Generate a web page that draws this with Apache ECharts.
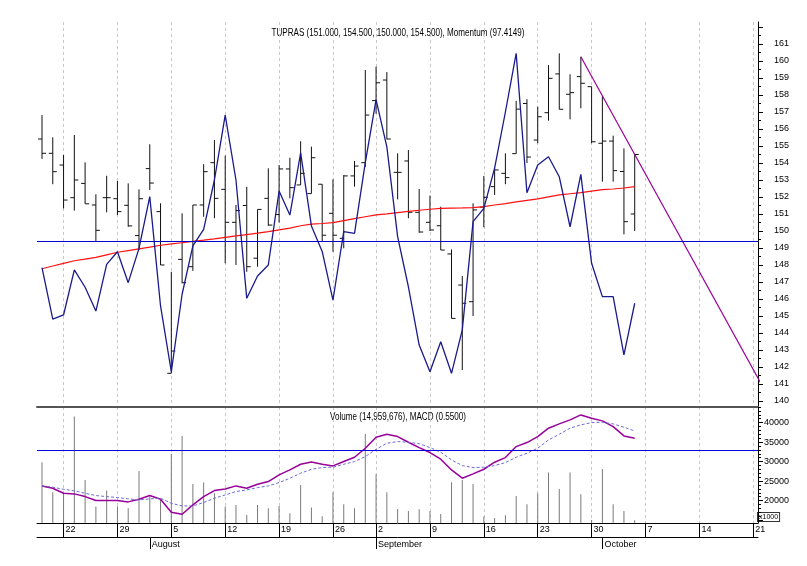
<!DOCTYPE html>
<html>
<head>
<meta charset="utf-8">
<script src="https://cdn.jsdelivr.net/npm/echarts@6/dist/echarts.min.js"></script>
<style>
  html, body { margin: 0; padding: 0; background: #fff; }
  #main { width: 807px; height: 566px; }
</style>
</head>
<body>
<div id="main"></div>
<script>
// trading days (2013), the tail after 10-04 is empty room for the trend line
var dates = [
  '07-18','07-19','07-22','07-23','07-24','07-25','07-26','07-29','07-30','07-31',
  '08-01','08-02','08-05','08-06','08-07','08-08','08-09','08-12','08-13','08-14','08-15','08-16',
  '08-19','08-20','08-21','08-22','08-23','08-26','08-27','08-28','08-29',
  '09-02','09-03','09-04','09-05','09-06','09-09','09-10','09-11','09-12','09-13',
  '09-16','09-17','09-18','09-19','09-20','09-23','09-24','09-25','09-26','09-27','09-30',
  '10-01','10-02','10-03','10-04','10-07','10-08','10-09','10-10','10-11',
  '10-14','10-15','10-16','10-17','10-18','10-21','10-22','10-23','10-24','10-25'
];
var monthNames = ['January','February','March','April','May','June','July',
  'August','September','October','November','December'];

var opens = [155.41,154.57,153.88,151.96,152.8,151.53,151.96,151.9,151.51,149.73,
  153.67,151.14,141.63,148.33,147.9,151.53,154.02,152.45,150.51,151.5,
  148.4,151.92,150.97,153.65,152.71,152.2,152.75,151.04,149.57,153.24,
  154.02,157.67,158.88,153.45,154.12,151.1,150.51,150.31,148.65,146.82,
  145.84,151.4,152.61,153.39,154.55,157.5,155.35,156.96,159.24,158.04,
  159.08,158.49,155.16,155.29,153.5,151.0];
var highs = [156.82,155.51,154.47,155.65,154.04,152.16,153.25,152.94,152.8,152.45,
  155.1,151.63,147.6,151.04,151.53,153.93,155.35,154.43,151.53,152.6,
  151.27,153.69,153.88,154.31,155.28,154.96,152.75,153.04,153.29,154.12,
  159.47,159.67,159.35,154.57,154.76,152.47,152.08,151.43,148.92,147.35,
  151.63,153.24,153.69,154.57,157.65,157.75,157.31,159.76,160.45,159.22,
  160.25,158.49,157.94,155.61,154.86,154.5];
var lows = [154.24,152.75,151.33,151.2,151.6,149.41,151.1,150.94,150.25,148.9,
  152.41,148.0,141.63,146.92,147.65,150.84,150.75,148.1,148.0,147.6,
  147.9,150.3,150.5,151.92,152.71,152.2,149.4,148.78,148.98,152.61,
  153.78,156.9,155.4,151.86,150.75,149.9,150.0,148.88,144.86,141.82,
  145.0,150.22,152.12,152.75,154.55,154.0,155.16,156.49,157.16,156.57,
  157.22,155.16,152.9,152.9,149.8,150.0];
var closes = [154.57,153.49,151.82,153.0,151.6,150.04,151.96,151.14,150.3,151.9,
  152.82,148.0,142.94,146.96,151.53,153.49,151.92,150.51,151.2,147.9,
  151.27,150.35,153.65,152.55,153.39,154.31,149.75,149.75,153.24,153.82,
  156.82,158.72,155.41,153.45,151.1,149.94,150.06,148.88,144.86,145.75,
  151.24,151.98,153.59,153.14,157.17,154.35,156.72,158.98,157.16,158.14,
  158.69,155.25,155.29,153.55,150.55,154.5];

// momentum as drawn over the price scale
var momentum = [147.84,144.81,145.06,147.71,146.69,145.29,148.04,148.78,146.96,148.98,
  152.02,145.59,141.72,146.28,149.12,150.1,153.0,156.82,153.0,146.04,
  147.35,148.0,152.35,150.94,154.6,150.3,148.8,145.94,149.96,149.86,
  154.02,157.73,154.95,149.67,146.72,143.29,141.72,143.49,141.63,144.18,
  150.55,151.33,153.7,157.0,160.45,152.25,153.88,154.37,153.19,150.25,
  153.33,148.1,146.14,146.14,142.71,145.75];
var movingAvg = [147.78,147.94,148.1,148.25,148.35,148.45,148.6,148.75,148.85,148.95,
  149.05,149.16,149.24,149.31,149.39,149.46,149.54,149.63,149.71,149.79,
  149.87,149.96,150.07,150.17,150.31,150.4,150.44,150.49,150.61,150.73,
  150.84,150.95,151.01,151.08,151.15,151.22,151.28,151.33,151.35,151.36,
  151.38,151.43,151.53,151.61,151.71,151.8,151.89,152.01,152.12,152.19,
  152.26,152.35,152.43,152.47,152.53,152.61];
var momentumLevel = 149.4;
var trendFrom = 50, trendThrough = 55; // trend line through these two highs

// volume in thousands
var volume = [29850,22150,21900,41540,25310,18460,22570,18460,18050,27620,
  21030,20180,31980,36590,24280,24620,21900,18460,18900,16340,
  18900,18050,18640,16770,24030,18210,16000,22160,19080,18050,
  37100,26770,22160,17870,17360,17800,17360,16590,24720,25310,
  24280,15900,15570,16260,21210,19080,21900,27180,23000,27180,
  21640,15050,28130,19080,17360,14960];
// MACD lines as drawn in the lower panel
var macd = [23770,23170,21890,21720,21030,20010,20010,20010,19670,20350,
  21290,20350,17020,16500,18900,21030,22570,23000,23770,23170,
  24200,24880,26590,27870,29320,29920,29320,28900,30010,31120,
  33430,36250,37020,36420,34970,33600,32320,30610,27870,25740,
  26850,28040,29840,31030,33850,34880,36420,38560,39670,40690,
  41970,41120,40440,38980,36590,35990];
var signal = [23770,23430,22910,22490,21890,21290,21030,20780,20440,20180,
  20440,20610,19320,18640,18640,19500,20610,21460,22320,22740,
  23340,23770,24620,25730,27020,28040,28470,28560,29320,30010,
  31290,33170,34710,35140,34970,34580,33600,32400,30440,28980,
  28470,28560,28980,29750,31120,32150,33430,35560,37020,38560,
  39410,40010,40090,39670,38810,37870];
var volumeLevel = 33000;

var priceTitle = 'TUPRAS (151.000, 154.500, 150.000, 154.500), Momentum (97.4149)';
var volumeTitle = 'Volume (14,959,676), MACD (0.5500)';

var priceTicks = [];
var priceHalfTicks = [];
for (var p = 140; p <= 162; p++) {
  priceTicks.push(p);
  if (p < 162) priceHalfTicks.push(p + 0.5);
}
var priceLabels = priceTicks.filter(function (v) { return v <= 161; });
var volTicks = [15000, 20000, 25000, 30000, 35000, 40000];
var volLabels = [20000, 25000, 30000, 35000, 40000];
var volMinor = [];
for (var v = 16000; v <= 44000; v += 1000) {
  if (v % 5000 !== 0) volMinor.push(v);
}

function toDate(s) {
  return new Date(2013, +s.slice(0, 2) - 1, +s.slice(3));
}
var weekStarts = [];
var monthStarts = [];
for (var i = 1; i < dates.length; i++) {
  var d0 = toDate(dates[i - 1]), d1 = toDate(dates[i]);
  if (d1.getDay() < d0.getDay()) weekStarts.push(i);
  if (d1.getMonth() !== d0.getMonth()) monthStarts.push(i);
}

var ohlc = opens.map(function (o, i) {
  return [i, o, highs[i], lows[i], closes[i]];
});
function pairs(arr) {
  return arr.map(function (val, i) { return [i, val]; });
}
var slope = (highs[trendThrough] - highs[trendFrom]) / (trendThrough - trendFrom);
var trendEnd = dates.length - 1;
var trend = [
  [trendFrom, highs[trendFrom]],
  [trendEnd, highs[trendFrom] + slope * (trendEnd - trendFrom)]
];

var FONT = "'Liberation Sans', Arial, sans-serif";
var xMin = -0.464, xMax = 66.44;
var plain = function (val) { return String(val); };

var myChart = echarts.init(document.getElementById('main'));
var option = {
  animation: false,
  backgroundColor: '#fff',
  textStyle: { fontFamily: FONT },
  // titles squeezed a little, the original uses a narrow face
  graphic: [
    {
      type: 'text', x: 398, y: 33, scaleX: 0.81, silent: true,
      style: { text: priceTitle, font: '10px ' + FONT, fill: '#000', align: 'center', verticalAlign: 'middle' }
    },
    {
      type: 'text', x: 398, y: 417, scaleX: 0.81, silent: true,
      style: { text: volumeTitle, font: '10px ' + FONT, fill: '#000', align: 'center', verticalAlign: 'middle' }
    }
  ],
  grid: [
    { left: 37, right: 49, top: 22, height: 385 },
    { left: 37, right: 49, top: 407, height: 116 }
  ],
  xAxis: [
    {
      type: 'value', gridIndex: 0, min: xMin, max: xMax, position: 'bottom',
      axisLine: { show: true, onZero: false, lineStyle: { color: '#555', width: 2 } },
      axisTick: { show: false, customValues: weekStarts },
      axisLabel: { show: false },
      splitLine: { show: true, lineStyle: { color: '#c8c8c8', type: [3, 3] } }
    },
    {
      type: 'value', gridIndex: 1, min: xMin, max: xMax, position: 'bottom',
      axisLine: { show: true, onZero: false, lineStyle: { color: '#000', width: 1 } },
      axisTick: { show: true, customValues: weekStarts, length: 14, lineStyle: { color: '#000' } },
      axisLabel: {
        customValues: weekStarts, align: 'left', margin: 2, padding: [0, 0, 0, 2],
        fontSize: 9, color: '#000', fontFamily: FONT,
        formatter: function (val) { return String(+dates[val].slice(3)); }
      },
      splitLine: { show: true, lineStyle: { color: '#c8c8c8', type: [3, 3] } }
    },
    {
      type: 'value', gridIndex: 1, min: xMin, max: xMax, position: 'bottom', offset: 14,
      axisLine: { show: true, onZero: false, lineStyle: { color: '#000', width: 1 } },
      axisTick: { show: true, customValues: monthStarts, length: 12, lineStyle: { color: '#000' } },
      axisLabel: {
        customValues: monthStarts, align: 'left', margin: 3, padding: [0, 0, 0, 2],
        fontSize: 9, color: '#000', fontFamily: FONT,
        formatter: function (val) { return monthNames[toDate(dates[val]).getMonth()]; }
      },
      splitLine: { show: false }
    }
  ],
  yAxis: [
    {
      type: 'value', gridIndex: 0, position: 'right', min: 139.647, max: 162.294,
      axisLine: { show: true, onZero: false, lineStyle: { color: '#000' } },
      axisTick: { show: true, customValues: priceTicks, length: 5, lineStyle: { color: '#000' } },
      axisLabel: {
        customValues: priceLabels, align: 'right', margin: 31,
        fontSize: 9, color: '#000', fontFamily: FONT, formatter: plain
      },
      splitLine: { show: false }
    },
    {
      type: 'value', gridIndex: 0, position: 'right', min: 139.647, max: 162.294,
      axisLine: { show: false, onZero: false },
      axisTick: { show: true, customValues: priceHalfTicks, length: 3, lineStyle: { color: '#000' } },
      axisLabel: { show: false },
      splitLine: { show: false }
    },
    {
      type: 'value', gridIndex: 1, position: 'right', min: 14258, max: 44000,
      name: 'x1000', nameLocation: 'start', nameGap: -10,
      nameTextStyle: {
        align: 'left', fontSize: 7, color: '#000', fontFamily: FONT,
        borderColor: '#333', borderWidth: 1, padding: [1, 1, 0, 1], backgroundColor: '#fff'
      },
      axisLine: { show: true, onZero: false, lineStyle: { color: '#000' } },
      axisTick: { show: true, customValues: volTicks, length: 5, lineStyle: { color: '#000' } },
      axisLabel: {
        customValues: volLabels, align: 'right', margin: 31,
        fontSize: 9, color: '#000', fontFamily: FONT, formatter: plain
      },
      splitLine: { show: false }
    },
    {
      type: 'value', gridIndex: 1, position: 'right', min: 14258, max: 44000,
      axisLine: { show: false, onZero: false },
      axisTick: { show: true, customValues: volMinor, length: 3, lineStyle: { color: '#000' } },
      axisLabel: { show: false },
      splitLine: { show: false }
    }
  ],
  series: [
    {
      name: 'TUPRAS',
      type: 'custom',
      xAxisIndex: 0, yAxisIndex: 0,
      data: ohlc,
      encode: { x: 0, y: [1, 2, 3, 4] },
      renderItem: function (params, api) {
        var x = api.value(0);
        var o = api.coord([x, api.value(1)]);
        var h = api.coord([x, api.value(2)]);
        var l = api.coord([x, api.value(3)]);
        var c = api.coord([x, api.value(4)]);
        var style = { stroke: '#111', lineWidth: 1 };
        return {
          type: 'group',
          children: [
            { type: 'line', shape: { x1: h[0], y1: h[1], x2: l[0], y2: l[1] }, style: style },
            { type: 'line', shape: { x1: o[0] - 4, y1: o[1], x2: o[0], y2: o[1] }, style: style },
            { type: 'line', shape: { x1: c[0], y1: c[1], x2: c[0] + 4, y2: c[1] }, style: style }
          ]
        };
      }
    },
    {
      name: 'MA',
      type: 'line',
      xAxisIndex: 0, yAxisIndex: 0,
      data: pairs(movingAvg),
      symbol: 'none',
      lineStyle: { color: '#ff1010', width: 1.2 }
    },
    {
      name: 'Momentum',
      type: 'line',
      xAxisIndex: 0, yAxisIndex: 0,
      data: pairs(momentum),
      symbol: 'none',
      lineStyle: { color: '#1a1a8c', width: 1.3 },
      markLine: {
        silent: true,
        symbol: ['none', 'none'],
        label: { show: false },
        lineStyle: { color: '#0000cc', width: 1.2, type: 'solid' },
        data: [{ yAxis: momentumLevel }]
      }
    },
    {
      name: 'Trend',
      type: 'line',
      xAxisIndex: 0, yAxisIndex: 0,
      data: trend,
      symbol: 'none',
      clip: true,
      lineStyle: { color: '#990099', width: 1.2 }
    },
    {
      name: 'Volume',
      type: 'bar',
      xAxisIndex: 1, yAxisIndex: 2,
      data: pairs(volume),
      barWidth: 1,
      itemStyle: { color: '#7a7a7a' },
      markLine: {
        silent: true,
        symbol: ['none', 'none'],
        label: { show: false },
        lineStyle: { color: '#0000dd', width: 1.2, type: 'solid' },
        data: [{ yAxis: volumeLevel }]
      }
    },
    {
      name: 'MACD',
      type: 'line',
      xAxisIndex: 1, yAxisIndex: 2,
      data: pairs(macd),
      symbol: 'none',
      lineStyle: { color: '#990099', width: 1.5 }
    },
    {
      name: 'Signal',
      type: 'line',
      xAxisIndex: 1, yAxisIndex: 2,
      data: pairs(signal),
      symbol: 'none',
      lineStyle: { color: '#6d6dd8', width: 1, type: [3, 2] }
    }
  ]
};
myChart.setOption(option, true);
</script>
</body>
</html>
